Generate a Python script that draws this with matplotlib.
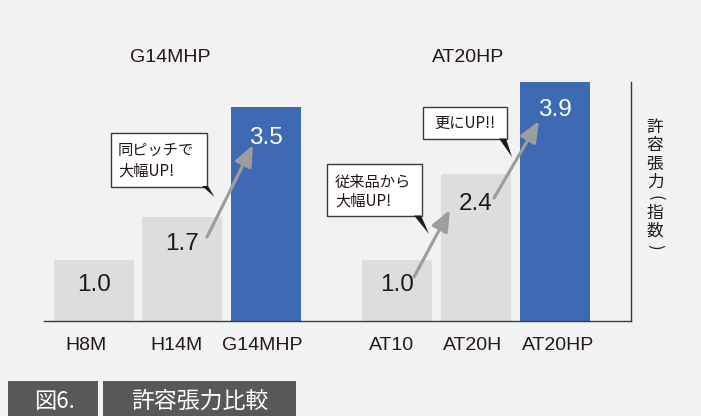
import matplotlib
matplotlib.use('Agg')
import matplotlib.pyplot as plt
from matplotlib.patches import Rectangle, Polygon

plt.rcParams['font.family'] = ['Liberation Sans', 'Noto Sans CJK JP', 'DejaVu Sans']

# ---------------- data ----------------
categories = ['H8M', 'H14M', 'G14MHP', 'AT10', 'AT20H', 'AT20HP']
values = [1.0, 1.7, 3.5, 1.0, 2.4, 3.9]
value_labels = ['1.0', '1.7', '3.5', '1.0', '2.4', '3.9']
highlight = [False, False, True, False, False, True]
group_titles = ['G14MHP', 'AT20HP']
axis_title = ['許', '容', '張', '力', '(', '指', '数', ')']
caption_num = '図6.'
caption = '許容張力比較'
callout_texts = ['同ピッチで\n大幅UP!', '従来品から\n大幅UP!', '更にUP!!']

# ---------------- layout (pixels) ----------------
W, H = 701, 416
bar_centers = [94, 182, 266, 397, 476, 555]
bar_widths = [80, 80, 70, 70, 70, 70]
tick_centers = [86, 177, 262, 392, 472.5, 558]
label_offsets_px = [31, 33, 37, 31, 36, 34]
ax_left, ax_right, ax_top, ax_bottom = 43.5, 631, 82, 321

BG = '#f2f2f2'
GRAY = '#dcdddd'
BLUE = '#3d6ab3'
INK = '#231815'
LINE = '#3e3a39'
ARROW = '#9d9d9d'
BANNER = '#595757'


def fx(x):
    return x / W


def fy(y):
    return 1 - y / H


fig = plt.figure(figsize=(W / 100, H / 100), dpi=100, facecolor=BG)
ax = fig.add_axes([fx(ax_left), fy(ax_bottom), (ax_right - ax_left) / W,
                   (ax_bottom - ax_top) / H])
ax.set_facecolor(BG)
ax.set_xlim(ax_left, ax_right)
ax.set_ylim(0, 3.9)

colors = [BLUE if h else GRAY for h in highlight]
ax.bar(bar_centers, values, width=bar_widths, color=colors, zorder=1)

for c, v, lbl, h, off in zip(bar_centers, values, value_labels, highlight, label_offsets_px):
    ax.annotate(lbl, (c, v), xytext=(0, -off * 0.72), textcoords='offset points',
                ha='center', va='baseline', fontsize=17.5,
                color='white' if h else INK, zorder=3)

for s in ['top', 'left']:
    ax.spines[s].set_visible(False)
for s in ['bottom', 'right']:
    ax.spines[s].set_color(LINE)
    ax.spines[s].set_linewidth(1.0)
ax.set_yticks([])
ax.set_xticks(tick_centers)
ax.set_xticklabels(categories, fontsize=14, color=INK)
ax.tick_params(axis='x', length=0, pad=11.5)

# group titles
fig.text(fx(170), fy(62.5), group_titles[0], ha='center', va='baseline',
         fontsize=14, color=INK)
fig.text(fx(468.5), fy(62), group_titles[1], ha='center', va='baseline',
         fontsize=14, color=INK)

# vertical axis title
vy = [127.5, 145.5, 164, 182.5, 197.5, 213, 231.5, 246.5]
for ch, y in zip(axis_title, vy):
    if ch in '()':
        fig.text(fx(655), fy(y), ch, ha='center', va='center', fontsize=12,
                 rotation=-90, color=INK, family=['Noto Sans CJK JP'])
    else:
        fig.text(fx(655), fy(y), ch, ha='center', va='center', fontsize=12,
                 color=INK, family=['Noto Sans CJK JP'])

# arrows
arrows = [((207, 237), (253, 145)), ((414, 277), (450, 210)), ((494, 198), (539, 121))]
for (x0, y0), (x1, y1) in arrows:
    ax.annotate('', xy=(x1, H - y1), xytext=(x0, H - y0),
                xycoords='figure pixels', textcoords='figure pixels',
                arrowprops=dict(arrowstyle='-|>,head_length=0.9,head_width=0.38',
                                color=ARROW, lw=2.3, mutation_scale=14,
                                shrinkA=0, shrinkB=0), zorder=4)

# callout boxes
boxes = [(110.7, 132.7, 207, 186.7), (327, 164, 422, 216), (423, 107, 507, 139)]
tails = [[(202, 186), (208, 186), (214.5, 197)],
         [(414, 215.5), (421, 215.5), (429, 234)],
         [(499, 138.5), (506, 138.5), (512, 157)]]
text_pos = [(118, 'left'), (335, 'left'), (465, 'center')]
text_y = [[150, 171], [182, 201], [123.5]]
for (x0, y0, x1, y1), tail, (tx, ha), tys, txt in zip(boxes, tails, text_pos, text_y, callout_texts):
    fig.add_artist(Rectangle((fx(x0), fy(y1)), (x1 - x0) / W, (y1 - y0) / H,
                             transform=fig.transFigure, fc='white', ec=LINE,
                             lw=1.0, zorder=5))
    fig.add_artist(Polygon([(fx(a), fy(b)) for a, b in tail], closed=True,
                           transform=fig.transFigure, fc=INK, ec='none', zorder=6))
    for line, ty in zip(txt.split('\n'), tys):
        fig.text(fx(tx), fy(ty), line, ha=ha, va='center', fontsize=11,
                 color=INK, family=['Noto Sans CJK JP'], zorder=7)

# caption banner
fig.add_artist(Rectangle((fx(8), 0), 90 / W, (416 - 381) / H,
                         transform=fig.transFigure, fc=BANNER, ec='none'))
fig.add_artist(Rectangle((fx(103), 0), 193 / W, (416 - 381) / H,
                         transform=fig.transFigure, fc=BANNER, ec='none'))
fig.text(fx(54), fy(401), caption_num, ha='center', va='center', fontsize=16,
         color='white', family=['Noto Sans CJK JP'])
fig.text(fx(199.5), fy(401), caption, ha='center', va='center', fontsize=16.5,
         color='white', family=['Noto Sans CJK JP'])

fig.savefig('out.png', dpi=100, facecolor=BG)
